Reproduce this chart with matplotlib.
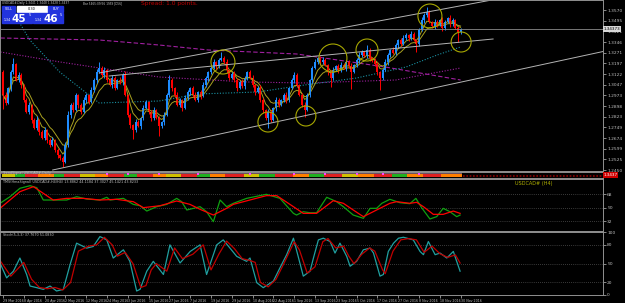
import numpy as np
import pandas as pd
import matplotlib
matplotlib.use("Agg")
import matplotlib.pyplot as plt
from matplotlib.patches import Rectangle

# USDCAD#, D1: 29 Mar 2016 .. 30 Nov 2016 (one value per bar)
first_open = 1.3136
closes = [
    1.2975, 1.2919, 1.3024, 1.3136, 1.3192, 1.3080, 1.3115, 1.3045, 1.2940, 1.2856,
    1.2905, 1.2800, 1.2744, 1.2800, 1.2716, 1.2674, 1.2730, 1.2660, 1.2625, 1.2660,
    1.2590, 1.2555, 1.2534, 1.2506, 1.2625, 1.2835, 1.2905, 1.2870, 1.2975, 1.2905,
    1.2856, 1.2940, 1.2975, 1.2926, 1.3010, 1.3080, 1.3136, 1.3164, 1.3115, 1.3150,
    1.3080, 1.3045, 1.3094, 1.3024, 1.3080, 1.3066, 1.3115, 1.2975, 1.2835, 1.2765,
    1.2730, 1.2786, 1.2758, 1.2814, 1.2884, 1.2926, 1.2856, 1.2814, 1.2870, 1.2814,
    1.2758, 1.2786, 1.2835, 1.2975, 1.3080, 1.3024, 1.2975, 1.2905, 1.2940, 1.2884,
    1.2954, 1.2996, 1.3024, 1.2975, 1.2940, 1.2996, 1.2968, 1.3045, 1.3094, 1.3136,
    1.3164, 1.3206, 1.3178, 1.3220, 1.3234, 1.3206, 1.3150, 1.3094, 1.3122, 1.3080,
    1.3024, 1.3066, 1.3038, 1.3094, 1.3136, 1.3094, 1.3045, 1.2996, 1.3024, 1.2940,
    1.2870, 1.2814, 1.2856, 1.2800, 1.2884, 1.2940, 1.2905, 1.2940, 1.2975, 1.2940,
    1.3024, 1.3080, 1.3115, 1.3045, 1.2975, 1.2905, 1.2870, 1.2975, 1.3080, 1.3164,
    1.3206, 1.3234, 1.3206, 1.3220, 1.3185, 1.3136, 1.3094, 1.3150, 1.3178, 1.3150,
    1.3185, 1.3164, 1.3206, 1.3178, 1.3136, 1.3185, 1.3220, 1.3255, 1.3276, 1.3248,
    1.3290, 1.3234, 1.3213, 1.3192, 1.3136, 1.3094, 1.3150, 1.3206, 1.3255, 1.3290,
    1.3269, 1.3325, 1.3360, 1.3332, 1.3374, 1.3395, 1.3374, 1.3402, 1.3360, 1.3332,
    1.3430, 1.3500, 1.3535, 1.3556, 1.3486, 1.3458, 1.3486, 1.3465, 1.3500, 1.3444,
    1.3486, 1.3514, 1.3472, 1.3500, 1.3444, 1.3416, 1.3437,
]
# тени свечей, в пунктах
wick_up = [
    15, 20, 10, 15, 40, 10, 20, 15, 10, 15,
    20, 10, 15, 25, 10, 15, 20, 10, 15, 20,
    10, 15, 10, 15, 20, 25, 15, 20, 15, 10,
    15, 20, 15, 10, 20, 15, 20, 40, 15, 20,
    10, 15, 20, 15, 10, 20, 15, 25, 10, 15,
    10, 20, 15, 10, 20, 15, 10, 15, 20, 10,
    15, 10, 20, 15, 35, 15, 10, 20, 15, 10,
    20, 15, 10, 15, 20, 10, 15, 20, 15, 10,
    15, 20, 10, 15, 40, 15, 20, 10, 15, 20,
    15, 10, 20, 15, 10, 15, 20, 10, 15, 20,
    15, 10, 20, 15, 10, 20, 15, 10, 15, 20,
    10, 15, 20, 15, 10, 15, 20, 15, 10, 15,
    20, 10, 15, 20, 15, 10, 15, 20, 10, 15,
    20, 15, 10, 15, 20, 10, 15, 20, 15, 10,
    35, 15, 10, 20, 15, 10, 15, 20, 15, 10,
    20, 15, 10, 15, 20, 15, 10, 20, 15, 10,
    15, 20, 15, 35, 15, 10, 20, 15, 10, 20,
    15, 10, 20, 15, 10, 15, 10,
]
wick_dn = [
    100, 15, 10, 20, 15, 10, 15, 20, 15, 10,
    15, 20, 10, 15, 20, 10, 15, 20, 15, 10,
    15, 20, 15, 35, 10, 15, 20, 15, 10, 20,
    15, 10, 20, 15, 10, 15, 20, 10, 15, 20,
    15, 10, 20, 15, 10, 15, 20, 10, 15, 20,
    60, 15, 10, 20, 15, 10, 15, 20, 15, 10,
    70, 15, 20, 10, 15, 20, 15, 10, 15, 20,
    10, 15, 20, 15, 10, 15, 20, 10, 15, 20,
    15, 10, 20, 15, 10, 15, 20, 15, 10, 15,
    20, 10, 15, 20, 15, 10, 15, 20, 10, 15,
    20, 15, 70, 15, 10, 20, 15, 10, 15, 20,
    15, 10, 20, 15, 10, 15, 50, 10, 15, 20,
    10, 15, 20, 15, 10, 20, 60, 15, 10, 20,
    15, 10, 20, 15, 120, 10, 15, 20, 15, 10,
    15, 20, 10, 15, 20, 85, 15, 10, 20, 15,
    10, 15, 20, 15, 10, 15, 20, 15, 10, 55,
    15, 10, 20, 15, 10, 15, 20, 15, 10, 20,
    15, 10, 20, 15, 10, 70, 15,
]
date_labels = ['29 Mar 2016', '8 Apr 2016', '20 Apr 2016', '2 May 2016', '12 May 2016',
               '24 May 2016', '3 Jun 2016', '15 Jun 2016', '27 Jun 2016', '7 Jul 2016',
               '19 Jul 2016', '29 Jul 2016', '10 Aug 2016', '22 Aug 2016', '1 Sep 2016',
               '13 Sep 2016', '23 Sep 2016', '5 Oct 2016', '17 Oct 2016', '27 Oct 2016',
               '8 Nov 2016', '18 Nov 2016', '30 Nov 2016']

# длинные скользящие (точки: номер бара, цена)
ma_dash_x = [-1, 37, 60, 79, 113, 147, 176]
ma_dash_y = [1.3374, 1.3360, 1.3325, 1.3290, 1.3262, 1.3171, 1.3080]
ma_dot_x = [-1, 22, 60, 94, 117, 151, 176]
ma_dot_y = [1.3276, 1.3206, 1.3101, 1.3066, 1.3059, 1.3080, 1.3164]
teal_x = [4.6, 10.3, 21.8, 37, 60, 75, 98, 116, 136, 155, 167, 176]
teal_y = [1.3535, 1.3360, 1.3136, 1.2919, 1.2933, 1.2982, 1.2996, 1.3045, 1.3094, 1.3171, 1.3255, 1.3311]

# трендовые линии: (бар0, бар1), (цена0, цена1)
trend_x = [(37, 188), (40.8, 188.5), (19.1, 231.7)]
trend_y = [(1.3129, 1.3640), (1.3108, 1.3367), (1.2450, 1.3283)]

# круги-отметки
circle_x = [84.6, 101.9, 116.5, 126.9, 140.0, 164.2, 176.2]
circle_y = [1.3206, 1.2786, 1.2828, 1.3234, 1.3290, 1.3528, 1.3346]
circle_r = [12, 10, 10, 14, 11, 12, 10]

# TMS (H4)
tms_green_x = [-1.15, 2.7, 6.5, 10.4, 13, 15.5, 18, 24.5, 28.3, 32.2, 37.3, 39.9, 41.2, 46.3,
               50.1, 52.7, 55.3, 59.1, 63, 66.8, 68.7, 70.7, 75.8, 78.3, 80.9, 83.5, 86,
               88.6, 93.7, 101.3, 106.5, 111.7, 112.9, 115.5, 118.1, 120.6, 124.5, 128.3,
               130.9, 134.7, 138.6, 141.2, 143.7, 145.7, 148.8, 152.7, 156.5, 158.8, 161,
               164.2, 166.8, 169.3, 171.9, 174.5, 175.8]
tms_green_v = [55.6, 64.4, 75.6, 79.1, 76.4, 60, 60, 60, 64.4, 61.3, 60, 63.6, 60, 62.2,
               54.2, 52.4, 45.3, 51.1, 54.2, 62.2, 57.8, 46.7, 51.1, 44.4, 31.1, 60, 51.1,
               55.6, 62.2, 67.6, 62.2, 42.2, 40, 44.4, 43, 43, 63.6, 57.8,
               51.1, 40, 35.6, 48.9, 48.9, 55.6, 60.9, 56.4, 55.1, 62.2, 49.8,
               34.7, 37.8, 48.9, 44.4, 37.8, 40]
tms_red_x = [-1.15, 6.5, 11.7, 15.5, 19.3, 24.5, 30.9, 37.3, 43.7, 50.1, 54, 60.4, 66.8,
             71.9, 75.8, 80.9, 86, 88.6, 101.3, 105.3, 111.7, 115.5, 120.6, 127, 130.9,
             134.7, 138.6, 143.7, 148.8, 151.4, 156.5, 159.1, 161.7, 165.5, 169.3, 173.2, 175.8]
tms_red_v = [48.9, 71.1, 77.8, 68.9, 60, 62.2, 62.2, 60, 60.9, 57.8, 49.8, 52.4, 58.7,
             54.2, 47.6, 40, 48.9, 54.2, 65.8, 65.8, 51.1, 42.2, 42.2, 59.1, 55.6,
             46.7, 37.8, 46.7, 55.6, 57.8, 55.6, 56.9, 51.1, 40.9, 40.9, 45.3, 42.2]

# Stochastic
stoch_x = [-1.15, 1.4, 4, 6.5, 9.1, 10.4, 13, 15.5, 18.1, 20.6, 23.2, 25.8, 28.3, 32.2,
           34.7, 37.3, 39.9, 42.4, 46.3, 48.8, 51.4, 52.7, 55.3, 57.8, 61.7, 64.2, 68.1,
           72, 75.8, 78.3, 82.2, 84.7, 87.3, 89.9, 93.7, 95, 97.6, 100.1, 104, 106.5,
           109.1, 111.7, 115.5, 118.1, 119.4, 121.3, 123.2, 125.8, 127.7, 129.6, 132.2,
           133.5, 136, 138.6, 141.2, 142.5, 145, 146.3, 148.2, 150.2, 152.1, 154, 157.8,
           160.4, 161.7, 163.6, 166.2, 168.1, 170.7, 173.2, 174.5, 175.8]
stoch_k = [51.1, 27.4, 38, 59, 32.7, 14.3, 11.7, 9, 14.3, 6.4, 9, 48.5, 82.7, 74.8,
           77.4, 93.2, 87.9, 59, 72.1, 53.7, 6.4, 9, 38, 53.7, 32.7, 80, 51.1,
           69.5, 80, 32.7, 80, 87.9, 74.8, 61.6, 53.7, 59, 19.6, 11.7, 22.2, 43.2,
           64.3, 90.6, 30.1, 38, 59, 87.9, 90.6, 85.3, 66.9, 82.7, 61.6,
           45.9, 53.7, 72.1, 74.8, 66.9, 30.1, 32.7, 69.5, 82.7, 90.6, 92.1, 87.9,
           69.5, 64.3, 85.3, 64.3, 66.9, 59, 69.5, 53.7, 38]
signal_x = [-1.15, 3, 8, 11, 14, 17, 20, 23, 26, 29, 33, 36, 39, 42, 44, 47, 50, 53, 55,
            57, 59, 63, 66, 69, 73, 77, 80, 83, 86, 89, 92, 95, 97, 99, 102, 105, 108,
            112, 114, 117, 120, 123, 125, 128, 131, 133, 135, 138, 141, 143, 146, 147,
            150, 153, 156, 159, 162, 165, 168, 171, 174, 175.8]
signal_d = [55, 30, 52, 25, 12, 10, 12, 8, 20, 70, 78, 80, 92, 80, 62, 68, 50, 12, 15,
            40, 50, 38, 75, 58, 65, 80, 40, 65, 86, 74, 58, 55, 52, 20, 13, 25, 50,
            85, 72, 35, 45, 85, 90, 75, 78, 62, 50, 65, 75, 70, 40, 34,
            70, 88, 90, 88, 68, 78, 66, 60, 64, 51]

# полоска индикатора
strip_starts = [0, 5, 9, 14, 20, 24, 30, 36, 41, 47, 52, 58, 63, 69, 75, 80, 86, 93, 99,
                105, 112, 118, 124, 131, 137, 143, 150, 156, 162, 169, 177]
strip_cols = ['#d0c000', '#20b020', '#e02020', '#ff7f00', '#20b020', '#e02020', '#d0c000',
              '#ff7f00', '#e02020', '#20b020', '#e02020', '#ff7f00', '#d0c000', '#e02020',
              '#20b020', '#ff7f00', '#e02020', '#d0c000', '#20b020', '#e02020', '#ff7f00',
              '#20b020', '#e02020', '#d0c000', '#ff7f00', '#e02020', '#20b020', '#ff7f00',
              '#e02020', '#ff7f00']
strip_marks = [40, 48, 60, 75, 95, 112, 124, 136, 146, 160]

W, H = 625, 303
BG = 'black'
GRID = '#707070'
TXT = '#c0c0c0'
XL = (-3 / 2.6, 600 / 2.6)

fig = plt.figure(figsize=(W / 100, H / 100), dpi=100, facecolor=BG)


def px_axes(x0, y0, x1, y1):
    ax = fig.add_axes([x0 / W, 1 - y1 / H, (x1 - x0) / W, (y1 - y0) / H])
    ax.set_facecolor(BG)
    ax.set_xlim(*XL)
    for s in ax.spines.values():
        s.set_color('#909090')
        s.set_linewidth(0.7)
    ax.yaxis.tick_right()
    ax.tick_params(axis='both', colors=TXT, labelsize=3.2, length=2, width=0.5, pad=1)
    ax.set_xticks([])
    return ax


# ---- основной график ----
ax = px_axes(0, 0, 603, 171)
ax.set_ylim(1.3640 - 0.0007 * 171, 1.3640)

c = np.array(closes)
o = np.array([first_open] + closes[:-1])
hi = np.maximum(o, c) + np.array(wick_up) * 0.0001
lo = np.minimum(o, c) - np.array(wick_dn) * 0.0001
x = np.arange(len(c))
cols = np.where(c >= o, '#1e8cff', '#ff0000')

ax.plot(ma_dash_x, ma_dash_y, color='#a020a0', lw=0.8, ls=(0, (4, 2)))
ax.plot(ma_dot_x, ma_dot_y, color='#a020a0', lw=0.8, ls=(0, (1, 1.5)))
ax.plot(teal_x, teal_y, color='#1a8fa0', lw=0.8, ls=(0, (1, 1.5)))

ema_fast = pd.Series(closes).ewm(span=5).mean()
ema_slow = pd.Series(closes).ewm(span=10).mean()
ax.plot(x, ema_fast, color='#a8a020', lw=0.7)
ax.plot(x, ema_slow, color='#a8a020', lw=0.7)

ax.vlines(x, lo, hi, colors=cols, lw=0.7)
ax.bar(x, np.maximum(np.abs(c - o), 0.0002), bottom=np.minimum(o, c), width=0.75,
       color=cols, linewidth=0)

for (x0, x1), (y0, y1) in zip(trend_x, trend_y):
    ax.plot([x0, x1], [y0, y1], color='#b4b4b4', lw=0.7)

ax.axhline(closes[-1], color='#8a8a8a', lw=0.6)

ax.scatter(circle_x, circle_y, s=[(2 * r * 0.72) ** 2 for r in circle_r],
           facecolors='none', edgecolors='#a8a800', linewidths=0.8, zorder=5)

price_ticks = np.linspace(1.2450, 1.3570, 16)
ax.set_yticks(price_ticks)
ax.set_yticklabels(['%.4f' % p for p in price_ticks])

# ---- полоска индикатора ----
ax_s = px_axes(0, 172, 603, 178)
ax_s.set_ylim(0, 1)
ax_s.set_yticks([])
for i in range(len(strip_cols)):
    ax_s.axvspan(strip_starts[i] - 0.5, strip_starts[i + 1] - 0.5, 0.2, 0.6,
                 color=strip_cols[i], lw=0)
ax_s.axvspan(-1.2, 176.5, 0.6, 0.9, color='#6a5060', lw=0)
ax_s.scatter(strip_marks, [0.7] * len(strip_marks), s=1.5, color='#ff40ff', marker='s', lw=0)
ax_s.plot([177, 231], [0.4, 0.4], color='#8b0000', lw=1.2, ls=(0, (1, 1)))

# ---- TMS ----
ax2 = px_axes(0, 179, 603, 231)
ax2.set_ylim(18.7, 88)
for lv in [32, 50, 68]:
    ax2.axhline(lv, color=GRID, lw=0.5, ls=(0, (1, 2)))
ax2.plot(tms_green_x, tms_green_v, color='#10a010', lw=0.9)
ax2.plot(tms_red_x, tms_red_v, color='#ff0000', lw=0.9)
ax2.set_yticks([32, 50, 68])
ax2.set_yticklabels(['32', '50', '68'])

# ---- Stochastic ----
ax3 = px_axes(0, 232, 603, 295)
ax3.set_ylim(1, 100.5)
for lv in [20, 50, 80]:
    ax3.axhline(lv, color=GRID, lw=0.5, ls=(0, (1, 2)))
ax3.plot(stoch_x, stoch_k, color='#20a0a0', lw=0.9)
ax3.plot(signal_x, signal_d, color='#c00000', lw=0.9)
ax3.set_yticks([0, 20, 50, 80, 100])
ax3.set_yticklabels(['0', '20', '50', '80', '100'])
ax3.set_xticks(np.arange(0, 177, 8))
ax3.set_xticklabels(date_labels, ha='left')
ax3.tick_params(axis='x', labelsize=2.3, pad=0.8)

# ---- надписи и кнопки поверх ----
ov = fig.add_axes([0, 0, 1, 1])
ov.set_xlim(0, W)
ov.set_ylim(H, 0)
ov.axis('off')
ov.patch.set_alpha(0)
ov.set_zorder(10)

ov.text(2, 3, 'USDCAD#,Daily 1.3441 1.3448 1.3428 1.3437', color=TXT, fontsize=2.1, va='center')
ov.text(83, 3, 'Bar 5465:09/56 1959 [D56]', color=TXT, fontsize=2.1, va='center')
ov.text(141, 4, 'Spread: 1.0 points.', color='#c00000', fontsize=4.3, va='center')

btn = '#2233dd'
ov.add_patch(Rectangle((2, 6), 13, 6, color=btn))
ov.text(8.5, 9, 'SELL', color='white', fontsize=2.3, ha='center', va='center')
ov.add_patch(Rectangle((17, 6), 30, 6, color='white'))
ov.text(32, 9, '0.30', color='black', fontsize=2.5, ha='center', va='center')
ov.add_patch(Rectangle((48, 6), 15, 6, color=btn))
ov.text(55.5, 9, 'BUY', color='white', fontsize=2.3, ha='center', va='center')
for bx, big in [(2, '45'), (33, '46')]:
    ov.add_patch(Rectangle((bx, 13), 30, 10, color=btn))
    ov.text(bx + 1.5, 20, '1.34', color='white', fontsize=2.3, va='center')
    ov.text(bx + 10, 18.5, big, color='white', fontsize=7.5, fontweight='bold', va='center')
    ov.text(bx + 26.5, 15.5, '5', color='white', fontsize=2.6, va='center')

ov.text(603.5, 29, '1.34373', color='black', fontsize=3.0, va='center',
        bbox=dict(boxstyle='square,pad=0.15', fc='#d8d8d8', ec='none'))
ov.text(603.5, 175, '1.3437', color='white', fontsize=3.0, va='center',
        bbox=dict(boxstyle='square,pad=0.15', fc='#d00000', ec='none'))

ov.text(3, 173, 'TrendSignal USDCAD#,Daily', color=TXT, fontsize=2.4, va='center')
ov.text(3, 181.5, 'TMS(HmaSignal) USDCAD#,H4(H4) 13.8862 44.1184 37.3027 45.1421 43.8233',
        color=TXT, fontsize=2.4, va='center')
ov.text(515, 184, 'USDCAD# (H4)', color='#b0b000', fontsize=3.6, va='center')
ov.text(3, 234.5, 'Stoch(5,3,3) 37.7670 51.0830', color=TXT, fontsize=2.4, va='center')

fig.savefig('out.png', dpi=100, facecolor=BG)
